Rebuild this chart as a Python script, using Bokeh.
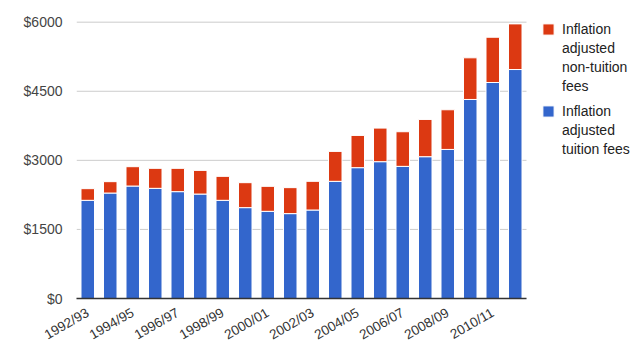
from bokeh.plotting import figure
from bokeh.models import ColumnDataSource, FixedTicker, Legend, LegendItem
from bokeh.embed import file_html
from bokeh.resources import INLINE

years = ["1992/93", "1993/94", "1994/95", "1995/96", "1996/97", "1997/98", "1998/99",
         "1999/00", "2000/01", "2001/02", "2002/03", "2003/04", "2004/05", "2005/06",
         "2006/07", "2007/08", "2008/09", "2009/10", "2010/11", "2011/12"]
tuition = [2132, 2290, 2442, 2392, 2320, 2268, 2132, 1973, 1893, 1843, 1921,
           2544, 2841, 2971, 2869, 3079, 3237, 4322, 4690, 4972]
total = [2385, 2537, 2862, 2826, 2826, 2782, 2652, 2515, 2435, 2407, 2544,
         3194, 3541, 3700, 3621, 3888, 4098, 5226, 5673, 5963]
non_tuition = [t - u for t, u in zip(total, tuition)]
y_ticks = [0, 1500, 3000, 4500, 6000]
legend_red = ["Inflation", "adjusted", "non-tuition", "fees"]
legend_blue = ["Inflation", "adjusted", "tuition fees"]

n = len(years)
idx = list(range(n))
src = ColumnDataSource(dict(x=idx, tuition=tuition, non_tuition=non_tuition))

FONT = "Liberation Sans"
BLUE = "#3366cc"
RED = "#dc3912"

# frame spans to the right edge so the legend (drawn inside the frame) is not clipped;
# bars occupy the first n category slots (22.5 px each)
p = figure(width=640, height=351, output_backend="svg", toolbar_location=None,
           x_range=(-0.5, n - 0.5 + 113.0 / 22.5), y_range=(0, 6145))
p.min_border_left = 76
p.min_border_right = 1
p.min_border_top = 15
p.min_border_bottom = 53
p.outline_line_color = None

p.xgrid.grid_line_color = None
p.ygrid.grid_line_color = None
p.segment(x0=[-0.5] * len(y_ticks), x1=[n - 0.5] * len(y_ticks), y0=y_ticks,
          y1=y_ticks, line_color="#cccccc", line_width=1)

stack = p.vbar_stack(["tuition", "non_tuition"], x="x", width=0.6, source=src,
                     color=[BLUE, RED], line_color="white", line_width=1)
blank = p.vbar(x=[], top=[], width=0.6, fill_alpha=0, line_alpha=0)

p.yaxis.ticker = FixedTicker(ticks=y_ticks)
p.yaxis.major_label_overrides = {v: "$" + str(v) for v in y_ticks}
p.yaxis.axis_line_color = None
p.yaxis.major_tick_line_color = None
p.yaxis.minor_tick_line_color = None
p.yaxis.major_label_text_font = FONT
p.yaxis.major_label_text_font_size = "14px"
p.yaxis.major_label_text_color = "#444444"
p.yaxis.major_label_standoff = 8

p.xaxis.ticker = FixedTicker(ticks=idx[::2])
p.xaxis.bounds = (-0.5, n - 0.5)
p.xaxis.major_label_overrides = {i: years[i] for i in idx[::2]}
p.xaxis.major_label_orientation = 0.52
p.xaxis.axis_line_color = "#333333"
p.xaxis.axis_line_width = 1.5
p.xaxis.major_tick_line_color = None
p.xaxis.minor_tick_line_color = None
p.xaxis.major_label_text_font = FONT
p.xaxis.major_label_text_font_size = "13.5px"
p.xaxis.major_label_text_color = "#333333"
p.xaxis.major_label_standoff = 7


def make_legend(lines, renderer, loc):
    items = [LegendItem(label=t, renderers=[renderer if i == 0 else blank])
             for i, t in enumerate(lines)]
    return Legend(items=items, location=loc, border_line_color=None,
                  background_fill_alpha=0, label_text_font=FONT,
                  label_text_font_size="14px", label_text_color="#222222",
                  glyph_width=14, glyph_height=14, label_height=19,
                  label_standoff=7, spacing=0, margin=0, padding=0)


p.add_layout(make_legend(legend_red, stack[1], (465, 203)))
p.add_layout(make_legend(legend_blue, stack[0], (465, 140)))

open("out.html", "w").write(file_html(p, INLINE))
